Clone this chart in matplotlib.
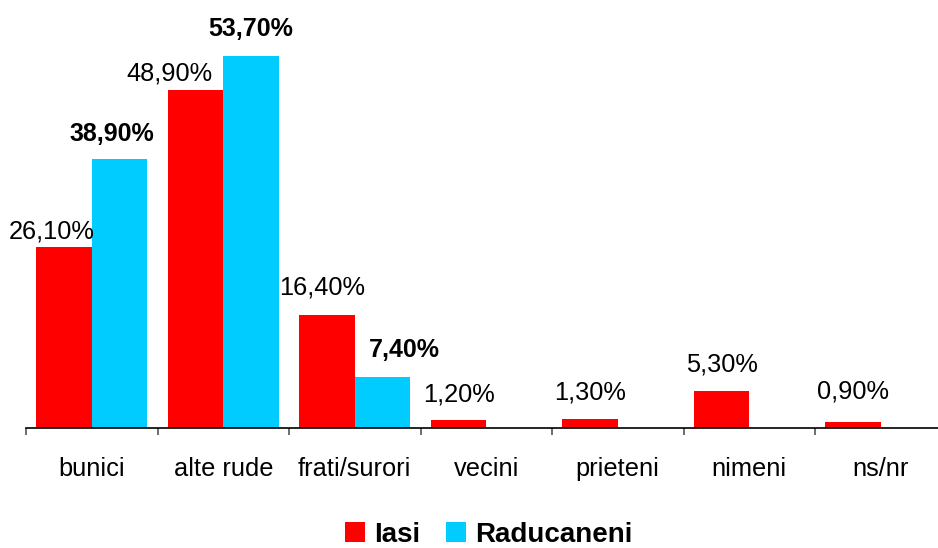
import matplotlib
matplotlib.use("Agg")
import matplotlib.pyplot as plt
import numpy as np

categories = ["bunici", "alte rude", "frati/surori", "vecini", "prieteni", "nimeni", "ns/nr"]
iasi = [26.1, 48.9, 16.4, 1.2, 1.3, 5.3, 0.9]
raducaneni = [38.9, 53.7, 7.4, None, None, None, None]
series_names = ["Iasi", "Raducaneni"]

# label offsets in pixels (dx, dy) - style only
iasi_off = [(-12, 9), (-26, 9), (-5, 20), (0, 18), (0, 20), (0, 20), (0, 23)]
rad_off = [(-8, 18), (0, 20), (22, 20)]

plt.rcParams['font.family'] = ['Liberation Sans', 'DejaVu Sans']
W, H = 938, 548
fig = plt.figure(figsize=(W / 100, H / 100), dpi=100)
left, right = 26, 946.5
base = 428
ymax = 60
ppu = 6.92
top = base - ymax * ppu
ax = fig.add_axes([left / W, (H - base) / H, (right - left) / W, (base - top) / H])

n = len(categories)
x = np.arange(n)
bw = 0.422
red = "#FF0000"
cyan = "#00CCFF"
ax.bar(x - bw / 2, iasi, width=bw, color=red, label=series_names[0], zorder=2)
rv = [v if v is not None else 0 for v in raducaneni]
ax.bar(x + bw / 2, rv, width=bw, color=cyan, label=series_names[1], zorder=2)

def fmt(v):
    return f"{v:.2f}".replace(".", ",") + "%"

px2pt = 72 / 100
for i, v in enumerate(iasi):
    dx, dy = iasi_off[i]
    ax.annotate(fmt(v), (x[i] - bw / 2, v), xytext=(dx * px2pt, dy * px2pt),
                textcoords="offset points", ha="center", va="baseline", fontsize=18.3)
for i, v in enumerate(raducaneni):
    if v is None:
        continue
    dx, dy = rad_off[i]
    ax.annotate(fmt(v), (x[i] + bw / 2, v), xytext=(dx * px2pt, dy * px2pt),
                textcoords="offset points", ha="center", va="baseline", fontsize=18,
                fontweight="bold")

ax.set_xlim(-0.5, n - 0.5)
ax.set_ylim(0, ymax)
for s in ["left", "right", "top"]:
    ax.spines[s].set_visible(False)
ax.spines["bottom"].set_color("black")
ax.spines["bottom"].set_linewidth(1.2)
ax.set_yticks([])
ax.set_xticks(np.arange(n + 1) - 0.5)
ax.set_xticklabels([])
ax.tick_params(axis="x", which="major", length=5, color="#555555", width=1.2)
ax.set_xticks(x, minor=True)
ax.set_xticklabels(categories, minor=True, fontsize=18.3)
ax.tick_params(axis="x", which="minor", length=0, pad=21)

leg = fig.legend(loc="lower center", bbox_to_anchor=(0.521, -0.02), ncol=2, frameon=False,
                 prop={"size": 20, "weight": "bold"}, handlelength=0.72, handleheight=0.72,
                 handletextpad=0.35, columnspacing=0.9, borderaxespad=0)

fig.savefig("out.png", dpi=100)
